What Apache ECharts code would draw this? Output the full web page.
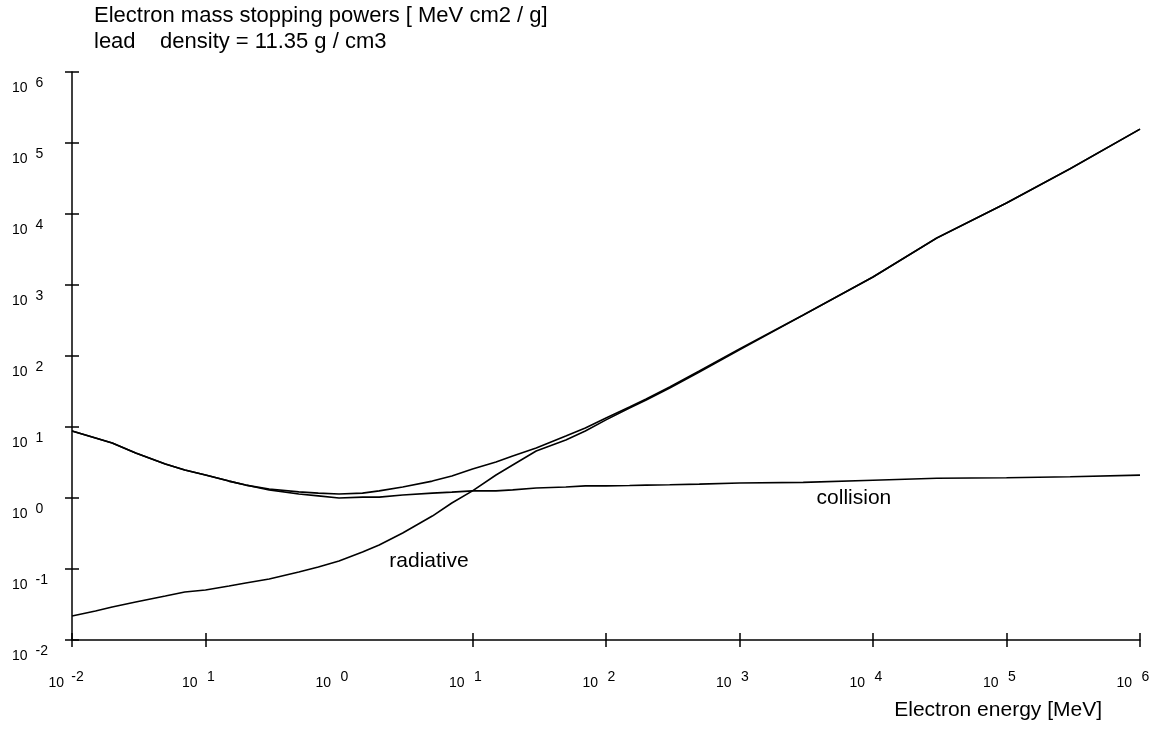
<!DOCTYPE html>
<html>
<head>
<meta charset="utf-8">
<script src="https://cdn.jsdelivr.net/npm/echarts@6/dist/echarts.min.js"></script>
<style>
  html, body { margin: 0; padding: 0; background: #ffffff; }
  #chart { width: 1153px; height: 729px; }
</style>
</head>
<body>
<div id="chart"></div>
<script>
// Electron kinetic energy grid [MeV]
const energy = [
  0.01, 0.015, 0.02, 0.03, 0.05, 0.07, 0.1, 0.15, 0.2, 0.3, 0.5, 0.7,
  1, 1.5, 2, 3, 5, 7, 10, 15, 20, 30, 50, 70,
  100, 150, 200, 300, 500, 1000, 3000, 1e4, 3e4, 1e5, 3e5, 1e6
];

// Total mass stopping power [MeV cm2 / g]
const totalPower = [
  8.79, 7.0, 5.96, 4.31, 3.01, 2.48, 2.11, 1.73, 1.52, 1.34, 1.22, 1.17,
  1.14, 1.17, 1.26, 1.43, 1.73, 2.04, 2.56, 3.21, 3.91, 5.06, 7.47, 9.68,
  13.4, 19.1, 24.8, 36.6, 61.5, 126, 378, 1297, 4590, 14300, 43600, 157000
];

// Collision mass stopping power [MeV cm2 / g]
const collisionPower = [
  8.79, 7.0, 5.96, 4.31, 3.01, 2.48, 2.11, 1.73, 1.52, 1.30, 1.14, 1.07,
  1.0, 1.03, 1.03, 1.10, 1.17, 1.21, 1.26, 1.26, 1.30, 1.38, 1.43, 1.48,
  1.48, 1.50, 1.52, 1.54, 1.57, 1.63, 1.66, 1.78, 1.90, 1.93, 1.99, 2.10
];

// Radiative mass stopping power [MeV cm2 / g]
const radiativePower = [
  0.0218, 0.0256, 0.0292, 0.0343, 0.0417, 0.0475, 0.0506, 0.0577, 0.0636, 0.0723, 0.0908, 0.107,
  0.130, 0.173, 0.218, 0.321, 0.557, 0.851, 1.26, 2.11, 2.92, 4.59, 6.56, 8.79,
  12.6, 18.5, 24.0, 35.4, 59.6, 122, 376, 1295, 4570, 14280, 43400, 156900
];

// Decade exponents printed under / beside the axes
const xTickExponents = ['-2', '1', '0', '1', '2', '3', '4', '5', '6'];
const yTickExponents = ['-2', '-1', '0', '1', '2', '3', '4', '5', '6'];
// Decades that carry a tick mark on the energy axis
const xTickValues = [0.01, 0.1, 10, 100, 1000, 1e4, 1e5, 1e6];

const FONT = '"Liberation Sans", Arial, Helvetica, sans-serif';
const INK = '#000000';

function pairs(xs, ys) {
  return xs.map((x, i) => [x, ys[i]]);
}
function decadeIndex(v) {
  return Math.round(Math.log10(v)) + 2;
}

// "10" followed by a raised exponent
const xRich = {
  b: { fontFamily: FONT, fontSize: 14, color: INK, lineHeight: 16, verticalAlign: 'middle' },
  s: { fontFamily: FONT, fontSize: 14, color: INK, lineHeight: 16, verticalAlign: 'middle',
       width: 27, padding: [0, 4.6, 11, 0] }
};
const yRich = {
  b: { fontFamily: FONT, fontSize: 14, color: INK, lineHeight: 16, verticalAlign: 'middle' },
  s: { fontFamily: FONT, fontSize: 14, color: INK, lineHeight: 16, verticalAlign: 'middle',
       padding: [0, 0, 11, 8] }
};

const axisLineStyle = { show: true, lineStyle: { color: INK, width: 1.5 } };
const tickLineStyle = { color: INK, width: 1.5 };

const lineSeries = (name, ys) => ({
  name: name,
  type: 'line',
  xAxisIndex: 0,
  yAxisIndex: 0,
  data: pairs(energy, ys),
  showSymbol: false,
  symbol: 'none',
  smooth: false,
  lineStyle: { color: INK, width: 1.6 },
  silent: true
});

const annotation = (text, coord) => ({
  symbol: 'circle',
  symbolSize: 0,
  silent: true,
  label: {
    show: true,
    position: 'inside',
    formatter: text,
    fontFamily: FONT,
    fontSize: 21,
    color: INK
  },
  data: [{ coord: coord }]
});

const chart = echarts.init(document.getElementById('chart'), null, { renderer: 'canvas' });

const collisionSeries = lineSeries('collision', collisionPower);
collisionSeries.markPoint = annotation('collision', [7200, 0.98]);
const radiativeSeries = lineSeries('radiative', radiativePower);
radiativeSeries.markPoint = annotation('radiative', [4.72, 0.128]);

chart.setOption({
  animation: false,
  backgroundColor: '#ffffff',
  title: {
    text: 'Electron mass stopping powers [ MeV cm2 / g]\nlead    density = 11.35 g / cm3',
    left: 94,
    top: 3,
    padding: 0,
    textStyle: {
      fontFamily: FONT,
      fontSize: 22,
      fontWeight: 'normal',
      color: INK,
      lineHeight: 26
    }
  },
  // energy-axis caption, under the right end of the axis
  graphic: [
    {
      type: 'text',
      x: 1102,
      y: 710,
      silent: true,
      style: {
        text: 'Electron energy [MeV]',
        fontFamily: FONT,
        fontSize: 21,
        fill: INK,
        align: 'right',
        verticalAlign: 'middle'
      }
    }
  ],
  grid: { left: 72, right: 13, top: 72, bottom: 89, containLabel: false, outerBoundsMode: 'none' },
  xAxis: [
    {
      type: 'log',
      logBase: 10,
      min: 0.01,
      max: 1e6,
      interval: 1,
      position: 'bottom',
      axisLine: axisLineStyle,
      axisTick: { show: true, inside: false, length: 7, lineStyle: tickLineStyle, customValues: xTickValues },
      splitLine: { show: false },
      axisLabel: {
        show: true,
        margin: 35,
        showMinLabel: true,
        showMaxLabel: true,
        formatter: (v) => '{b|10}{s|' + xTickExponents[decadeIndex(v)] + '}',
        rich: xRich
      }
    },
    {
      type: 'log',
      logBase: 10,
      min: 0.01,
      max: 1e6,
      interval: 1,
      position: 'bottom',
      axisLine: { show: false },
      axisTick: { show: true, inside: true, length: 7, lineStyle: tickLineStyle, customValues: xTickValues },
      splitLine: { show: false },
      axisLabel: { show: false }
    }
  ],
  yAxis: [
    {
      type: 'log',
      logBase: 10,
      min: 0.01,
      max: 1e6,
      interval: 1,
      position: 'left',
      axisLine: axisLineStyle,
      axisTick: { show: true, inside: false, length: 7, lineStyle: tickLineStyle },
      splitLine: { show: false },
      axisLabel: {
        show: true,
        align: 'left',
        margin: 60,
        padding: [33, 0, 0, 0],
        showMinLabel: true,
        showMaxLabel: true,
        formatter: (v) => '{b|10}{s|' + yTickExponents[decadeIndex(v)] + '}',
        rich: yRich
      }
    },
    {
      type: 'log',
      logBase: 10,
      min: 0.01,
      max: 1e6,
      interval: 1,
      position: 'left',
      axisLine: { show: false },
      axisTick: { show: true, inside: true, length: 7, lineStyle: tickLineStyle },
      splitLine: { show: false },
      axisLabel: { show: false }
    }
  ],
  series: [
    lineSeries('total', totalPower),
    collisionSeries,
    radiativeSeries
  ]
});
</script>
</body>
</html>
